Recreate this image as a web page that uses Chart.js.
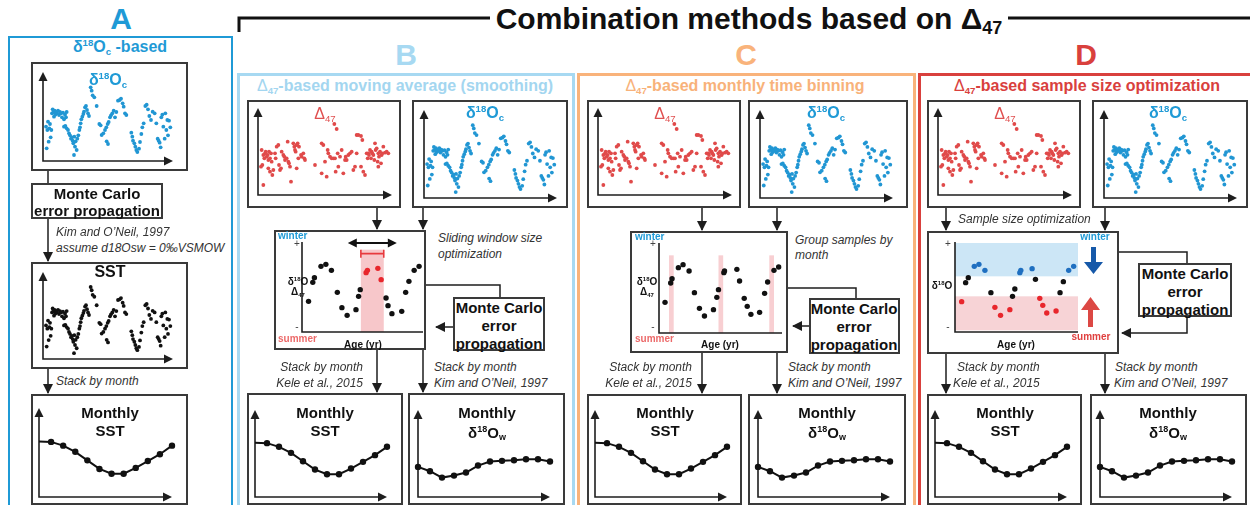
<!DOCTYPE html>
<html>
<head>
<meta charset="utf-8">
<script src="https://cdn.jsdelivr.net/npm/chart.js@4"></script>
<style>
  body { margin: 0; background: #fff; }
  #fig { position: relative; width: 1250px; height: 505px; overflow: hidden; font-family: "Liberation Sans", Arial, sans-serif; color: #111; }
  #fig > * { position: absolute; }
  .panel { box-sizing: border-box; background: transparent; }
  .box { box-sizing: border-box; border: 2px solid #3a3a3a; background: #fff; }
  .t { white-space: nowrap; line-height: 1; }
  sup { font-size: .6em; vertical-align: .6em; line-height: 0; }
  sub { font-size: .6em; vertical-align: -.3em; line-height: 0; }
  .letter { font-weight: bold; font-size: 30px; }
  .head { font-weight: bold; font-size: 30px; }
  .ptitle { font-weight: bold; font-size: 16px; }
  .lab { font-weight: bold; font-size: 16px; }
  .dl { font-size: 16px; color: #e05050; }
  .mc { font-weight: bold; font-size: 15px; }
  .it { font-style: italic; font-size: 12px; color: #333; }
  .mon { font-weight: bold; font-size: 15px; }
  .sm { font-weight: bold; font-size: 10px; }
  .pm { font-size: 10px; color: #444; }
</style>
</head>
<body>
<div id="fig"></div>
<script>
// ---- data ----
const months = ["Jan", "Feb", "Mar", "Apr", "May", "Jun", "Jul", "Aug", "Sep", "Oct", "Nov", "Dec"];
const monthlySST = [162, 161, 150, 132, 107, 82, 68, 68, 85, 105, 125, 150];
const monthlyD18Ow = [90, 77, 58, 64, 73, 94, 106, 108, 110, 113, 113, 106];

// d18Oc record (also used for the SST record in A)
const d18OcAge = [18, 20, 22, 24, 26, 28, 30, 32, 34, 36, 38, 40, 42, 44, 46, 48, 51, 54, 57, 60,
  63, 66, 69, 72, 75, 78, 80, 72, 76, 80, 84, 87, 90, 93, 96, 98, 100, 103, 105, 107,
  110, 112, 102, 115, 118, 120, 122, 124, 127, 130, 132, 135, 138, 141, 144, 147, 152, 155, 158, 163,
  170, 178, 182, 185, 190, 195, 199, 203, 206, 210, 213, 217, 221, 225, 229, 234, 239, 243, 248, 251,
  255, 259, 200, 204, 274, 277, 279, 283, 286, 289, 292, 297, 300, 304, 307, 311, 316, 320, 324, 328,
  333, 338, 344, 349, 353, 356, 359, 362, 364, 367, 370, 374, 379, 384, 387, 391, 382, 376];
const d18OcVal = [100, 35, 90, 115, 55, 95, 108, 68, 90, 140, 152, 143, 130, 148, 136, 144, 140, 148, 135, 144,
  140, 128, 142, 122, 136, 128, 144, 100, 102, 95, 90, 80, 74, 64, 68, 58, 50, 70, 40, 56,
  30, 64, 15, 74, 90, 98, 110, 122, 130, 138, 145, 158, 162, 150, 140, 132, 218, 208, 194, 188,
  162, 108, 104, 75, 80, 90, 98, 108, 114, 128, 134, 140, 148, 128, 144, 178, 180, 184, 170, 160,
  140, 135, 56, 48, 82, 70, 58, 50, 40, 30, 24, 34, 54, 78, 98, 110, 162, 166, 152, 132,
  120, 145, 140, 110, 64, 58, 52, 38, 128, 136, 100, 64, 90, 74, 118, 98, 120, 140];

// D47 record
const d47Age = [25, 20, 25, 28, 30, 32, 35, 38, 40, 42, 45, 48, 50, 22, 18, 40, 45, 55, 52, 60,
  62, 65, 70, 72, 75, 78, 80, 85, 88, 90, 95, 98, 100, 102, 105, 108, 115, 118, 120, 122,
  125, 128, 130, 132, 138, 140, 145, 148, 150, 125, 180, 200, 205, 210, 200, 215, 218, 220, 225, 230,
  235, 240, 242, 248, 250, 255, 260, 265, 270, 272, 275, 280, 285, 290, 295, 300, 305, 305, 310, 318,
  318, 322, 325, 330, 335, 338, 340, 342, 345, 348, 350, 352, 355, 358, 360, 362, 365, 368, 370, 372,
  375, 378, 380, 382, 385, 390, 395, 400, 370, 238, 245];
const d47Val = [30, 135, 120, 110, 125, 130, 115, 120, 105, 130, 110, 125, 100, 90, 85, 80, 70, 75, 60, 125,
  110, 145, 150, 90, 75, 80, 130, 120, 115, 105, 110, 160, 100, 95, 85, 40, 155, 145, 135, 130,
  150, 155, 110, 145, 120, 115, 125, 110, 105, 80, 90, 155, 150, 100, 65, 55, 135, 125, 115, 110,
  110, 110, 70, 125, 85, 115, 135, 65, 105, 115, 105, 120, 125, 130, 75, 85, 125, 180, 180, 177,
  85, 165, 70, 60, 125, 110, 125, 120, 135, 110, 130, 125, 120, 105, 155, 135, 140, 100, 125, 115,
  130, 95, 120, 125, 145, 127, 130, 125, 85, 213, 198];

// B: moving window
const smoothAge = [20, 33, 38, 58, 73, 90, 108, 122, 138, 165, 173, 178, 257, 263, 275, 305, 317, 327, 343, 358];
const smoothVal = [92, 149, 163, 197, 203, 185, 119, 73, 50, 67, 107, 127, 102, 79, 55, 62, 119, 152, 185, 197];
const windowAge = [196, 200, 232, 242];
const windowVal = [178, 185, 191, 157];
const windowRange = [180, 250];

// C: monthly bins
const binAge = [18, 35, 39, 58, 72, 90, 106, 121, 136, 163, 173, 178, 194, 196, 233, 241, 255, 264, 275, 301, 316, 325, 344, 358];
const binVal = [92, 150, 163, 196, 205, 186, 121, 74, 51, 70, 107, 130, 181, 186, 191, 156, 104, 80, 56, 62, 119, 153, 188, 198];
const binRanges = [[30, 44], [178, 192], [330, 344]];

// D: sample size optimization
const winterAge = [58, 72, 90, 195, 198, 232, 342, 357];
const winterVal = [197, 203, 185, 178, 185, 190, 185, 197];
const midAge = [32, 40, 108, 173, 180, 242, 316, 326];
const midVal = [148, 163, 118, 107, 129, 158, 118, 151];
const summerAge = [20, 120, 137, 165, 255, 264, 276, 304];
const summerVal = [91, 74, 50, 67, 101, 80, 57, 63];
const winterRange = [167, 267];
const summerRange = [5, 107];

// ---- helpers ----
const fig = document.getElementById("fig");
const D18OC = "δ<sup>18</sup>O<sub>c</sub>";
const D47 = "Δ<sub>47</sub>";
const BLUE = "#1f9ad6";
const PAD = 8;

function rect(cls, x1, y1, x2, y2, style) {
  const d = document.createElement("div");
  d.className = cls;
  Object.assign(d.style, { left: x1 + "px", top: y1 + "px", width: x2 - x1 + "px", height: y2 - y1 + "px" }, style || {});
  fig.appendChild(d);
  return d;
}

function txt(html, x, y, cls, align, color) {
  const d = document.createElement("div");
  d.className = "t " + (cls || "");
  d.innerHTML = html;
  d.style.left = x + "px";
  d.style.top = y + "px";
  if (color) d.style.color = color;
  const tx = align === "l" ? "0" : align === "r" ? "-100%" : "-50%";
  d.style.transform = "translate(" + tx + ",-50%)";
  fig.appendChild(d);
}

function pts(xs, ys) {
  return xs.map((x, i) => ({ x: x, y: ys[i] }));
}

const framePlugin = {
  id: "frame",
  beforeDatasetsDraw(chart, args, opts) {
    const { ctx, chartArea: a, scales } = chart;
    ctx.save();
    (opts.bands || []).forEach((b) => {
      const x0 = b.x ? scales.x.getPixelForValue(b.x[0]) : a.left;
      const x1 = b.x ? scales.x.getPixelForValue(b.x[1]) : a.right;
      const y0 = scales.y.getPixelForValue(b.y[1]);
      const y1 = scales.y.getPixelForValue(b.y[0]);
      ctx.fillStyle = b.color;
      ctx.fillRect(x0, y0, x1 - x0, y1 - y0);
    });
    ctx.strokeStyle = "#1e1e1e";
    ctx.fillStyle = "#1e1e1e";
    ctx.lineWidth = 1.6;
    const h = opts.arrows ? 8 : 0;
    ctx.beginPath();
    ctx.moveTo(a.left, a.top + h);
    ctx.lineTo(a.left, a.bottom);
    ctx.lineTo(a.right - h, a.bottom);
    ctx.stroke();
    if (opts.arrows) {
      ctx.beginPath();
      ctx.moveTo(a.left, a.top);
      ctx.lineTo(a.left - 4.5, a.top + 9);
      ctx.lineTo(a.left + 4.5, a.top + 9);
      ctx.closePath();
      ctx.fill();
      ctx.beginPath();
      ctx.moveTo(a.right, a.bottom);
      ctx.lineTo(a.right - 9, a.bottom - 4.5);
      ctx.lineTo(a.right - 9, a.bottom + 4.5);
      ctx.closePath();
      ctx.fill();
    }
    if (opts.bar) {
      // window-size bar and sliding arrow
      const b = opts.bar;
      const x0 = scales.x.getPixelForValue(b.x[0]);
      const x1 = scales.x.getPixelForValue(b.x[1]);
      const y = scales.y.getPixelForValue(b.y);
      ctx.strokeStyle = "#e8393d";
      ctx.lineWidth = 1.6;
      ctx.beginPath();
      ctx.moveTo(x0, y); ctx.lineTo(x1, y);
      ctx.moveTo(x0, y - 4); ctx.lineTo(x0, y + 4);
      ctx.moveTo(x1, y - 4); ctx.lineTo(x1, y + 4);
      ctx.stroke();
      const s0 = scales.x.getPixelForValue(b.slide[0]);
      const s1 = scales.x.getPixelForValue(b.slide[1]);
      const sy = scales.y.getPixelForValue(b.slideY);
      ctx.strokeStyle = "#111";
      ctx.fillStyle = "#111";
      ctx.lineWidth = 1.8;
      ctx.beginPath();
      ctx.moveTo(s0 + 6, sy); ctx.lineTo(s1 - 6, sy);
      ctx.stroke();
      ctx.beginPath();
      ctx.moveTo(s0, sy); ctx.lineTo(s0 + 9, sy - 4.5); ctx.lineTo(s0 + 9, sy + 4.5); ctx.closePath();
      ctx.moveTo(s1, sy); ctx.lineTo(s1 - 9, sy - 4.5); ctx.lineTo(s1 - 9, sy + 4.5); ctx.closePath();
      ctx.fill();
    }
    ctx.restore();
  },
};

function makeChart(ax, type, data, xr, yr, frame) {
  const c = document.createElement("canvas");
  c.width = ax[2] - ax[0] + 2 * PAD;
  c.height = ax[3] - ax[1] + 2 * PAD;
  c.style.left = ax[0] - PAD + "px";
  c.style.top = ax[1] - PAD + "px";
  fig.appendChild(c);
  const xScale = type === "line"
    ? { type: "category", display: false, offset: false }
    : { type: "linear", display: false, min: xr[0], max: xr[1] };
  return new Chart(c, {
    type: type,
    data: data,
    options: {
      responsive: false,
      animation: false,
      events: [],
      layout: { padding: PAD },
      scales: { x: xScale, y: { display: false, min: yr[0], max: yr[1] } },
      plugins: { legend: { display: false }, tooltip: { enabled: false }, frame: frame },
    },
    plugins: [framePlugin],
  });
}

function scatter(ax, xs, ys, color, xr, yr) {
  makeChart(ax, "scatter",
    { datasets: [{ data: pts(xs, ys), backgroundColor: color, borderWidth: 0, pointRadius: 1.9, clip: false }] },
    xr, yr, { arrows: true });
}

function monthly(ax, values, firstDot) {
  const radii = values.map((v, i) => (i === 0 && !firstDot ? 0 : 3.2));
  makeChart(ax, "line",
    { labels: months, datasets: [{ data: values, borderColor: "#111", borderWidth: 2, pointRadius: radii,
      pointBackgroundColor: "#111", pointBorderWidth: 0, tension: 0, clip: false }] },
    null, [0, 260], { arrows: true });
}

function dots(xs, ys, color) {
  return { data: pts(xs, ys), backgroundColor: color, borderWidth: 0, pointRadius: 2.7, clip: false };
}

// ---- panel frames ----
rect("panel", 8, 36, 233, 540, { border: "2px solid " + BLUE });
rect("panel", 237, 73, 575, 540, { border: "3px solid #a7d9f2" });
rect("panel", 577, 73, 916, 540, { border: "3px solid #f9b37b" });
rect("panel", 918, 73, 1262, 540, { border: "3px solid #d9403d" });

// ---- boxes ----
const boxes = [
  [31, 62, 188, 171], [31, 183, 163, 219], [31, 262, 188, 369], [31, 394, 188, 505],
  [247, 100, 401, 208], [412, 100, 568, 208], [274, 230, 426, 350], [453, 297, 545, 351],
  [247, 393, 403, 505], [408, 393, 565, 505],
  [587, 100, 741, 208], [748, 100, 908, 208], [630, 231, 788, 353], [809, 298, 900, 354],
  [587, 394, 742, 505], [748, 394, 906, 505],
  [927, 100, 1081, 208], [1092, 100, 1248, 208], [927, 231, 1119, 354], [1138, 263, 1232, 317],
  [927, 394, 1082, 505], [1090, 394, 1247, 505],
];
boxes.forEach((b) => rect("box", b[0], b[1], b[2], b[3]));

// ---- connectors ----
const lines = [
  [[48, 171], [48, 183], 0], [[48, 219], [48, 261], 1], [[48, 369], [48, 393], 1],
  [[377, 208], [377, 229], 1], [[423, 208], [423, 229], 1],
  [[426, 285], [500, 285], [500, 297], 0], [[453, 327], [436, 327], 1],
  [[377, 350], [377, 392], 1], [[423, 350], [423, 392], 1],
  [[702, 208], [702, 230], 1], [[777, 208], [777, 230], 1],
  [[788, 288], [856, 288], [856, 298], 0], [[809, 326], [793, 326], 1],
  [[702, 353], [702, 393], 1], [[777, 353], [777, 393], 1],
  [[946, 208], [946, 230], 1], [[1105, 208], [1105, 230], 1],
  [[1119, 252], [1187, 252], [1187, 263], 0], [[1187, 317], [1187, 333], [1122, 333], 1],
  [[946, 354], [946, 393], 1], [[1105, 354], [1105, 393], 1],
];
let svg = '<svg width="1250" height="505" style="position:absolute;left:0;top:0">' +
  '<defs><marker id="ah" markerWidth="10" markerHeight="10" refX="9" refY="5" orient="auto" markerUnits="userSpaceOnUse">' +
  '<path d="M0,0 L10,5 L0,10 z" fill="#1e1e1e"/></marker></defs>' +
  '<polyline points="239,32 239,18 490,18" fill="none" stroke="#111" stroke-width="3"/>' +
  '<line x1="1008" y1="18" x2="1250" y2="18" stroke="#111" stroke-width="3"/>';
lines.forEach((l) => {
  const arrow = l[l.length - 1];
  const p = l.slice(0, -1).map((q) => q.join(",")).join(" ");
  svg += '<polyline points="' + p + '" fill="none" stroke="#1e1e1e" stroke-width="1.5"' + (arrow ? ' marker-end="url(#ah)"' : "") + "/>";
});
// winter / summer arrows in D
svg += '<path d="M1091,247 h5 v15 h7 l-9.5,12 l-9.5,-12 h7 z" fill="#1659a9"/>';
svg += '<path d="M1088,327 h5 v-17 h7 l-9.5,-13 l-9.5,13 h7 z" fill="#dc4844"/>';
svg += "</svg>";
fig.insertAdjacentHTML("beforeend", svg);

// ---- charts ----
const ocX = [9, 399], ocY = [-3, 264];
const d47X = [9, 411], d47Y = [0, 261];
scatter([43, 72, 173, 161], d18OcAge, d18OcVal, "#2196d3", ocX, ocY);
scatter([43, 272, 173, 359], d18OcAge, d18OcVal, "#111", ocX, ocY);
monthly([39, 408, 172, 497], monthlySST, false);

scatter([258, 108, 392, 195], d47Age, d47Val, "#e04a4a", d47X, d47Y);
scatter([424, 110, 557, 198], d18OcAge, d18OcVal, "#2196d3", ocX, ocY);
makeChart([302, 242, 423, 332], "scatter",
  { datasets: [dots(smoothAge, smoothVal, "#111"), dots(windowAge, windowVal, "#e8262c")] },
  [0, 370], [0, 270],
  { arrows: false, bands: [{ x: windowRange, y: [0, 247], color: "#f7c7ca" }],
    bar: { x: windowRange, y: 235, slide: [140, 290], slideY: 267 } });
monthly([255, 410, 387, 497], monthlySST, false);
monthly([418, 410, 550, 497], monthlyD18Ow, true);

scatter([598, 108, 732, 195], d47Age, d47Val, "#e04a4a", d47X, d47Y);
scatter([760, 110, 893, 198], d18OcAge, d18OcVal, "#2196d3", ocX, ocY);
makeChart([659, 243, 782, 333], "scatter",
  { datasets: [dots(binAge, binVal, "#111")] },
  [0, 368], [0, 270],
  { arrows: false, bands: binRanges.map((r) => ({ x: r, y: [0, 233], color: "#f8cfd2" })) });
monthly([595, 410, 727, 497], monthlySST, false);
monthly([758, 410, 890, 497], monthlyD18Ow, true);

scatter([938, 108, 1072, 195], d47Age, d47Val, "#e04a4a", d47X, d47Y);
scatter([1104, 110, 1237, 198], d18OcAge, d18OcVal, "#2196d3", ocX, ocY);
makeChart([955, 242, 1078, 332], "scatter",
  { datasets: [dots(winterAge, winterVal, "#1f6fc0"), dots(midAge, midVal, "#111"), dots(summerAge, summerVal, "#e8262c")] },
  [0, 370], [0, 270],
  { arrows: false, bands: [{ y: winterRange, color: "#cce6f6" }, { y: summerRange, color: "#f7d3d6" }] });
monthly([935, 410, 1067, 497], monthlySST, false);
monthly([1100, 410, 1232, 497], monthlyD18Ow, true);

// ---- text ----
txt("A", 121, 19, "letter", "c", BLUE);
txt("Combination methods based on Δ<sub>47</sub>", 749, 19, "head", "c");
txt("B", 406, 55, "letter", "c", "#a7d9f2");
txt("C", 746, 55, "letter", "c", "#f9b37b");
txt("D", 1086, 55, "letter", "c", "#d9403d");

txt(D18OC + " -based", 120, 47, "ptitle", "c", BLUE);
txt('<span style="font-weight:normal">Δ</span><sub>47</sub>-based moving average (smoothing)', 405, 86, "ptitle", "c", "#a3d6f0");
txt('<span style="font-weight:normal">Δ</span><sub>47</sub>-based monthly time binning', 745, 86, "ptitle", "c", "#f8b27a");
txt('<span style="font-weight:normal">Δ</span><sub>47</sub>-based sample size optimization', 1087, 86, "ptitle", "c", "#d9403d");

// panel A
txt(D18OC, 108, 80, "lab", "c", BLUE);
txt("Monte Carlo", 97, 193, "mc", "c");
txt("error propagation", 97, 210, "mc", "c");
txt("Kim and O’Neil, 1997", 56, 232, "it", "l");
txt("assume d18Osw = 0‰VSMOW", 56, 248, "it", "l");
txt("SST", 110, 272, "lab", "c");
txt("Stack by month", 56, 381, "it", "l");
txt("Monthly", 110, 412, "mon", "c");
txt("SST", 110, 430, "mon", "c");

// scatter labels B, C, D
[[325, 485], [665, 826], [1005, 1168]].forEach((p) => {
  txt(D47, p[0], 114, "dl", "c");
  txt(D18OC, p[1], 113, "lab", "c", BLUE);
});

// middle plot labels
function midLabels(pmx, dx, ageX, w, s, hasD47) {
  txt("+", pmx, 244, "pm", "c");
  txt("-", pmx, 327, "pm", "c");
  txt("δ<sup>18</sup>O", dx, hasD47 ? 282 : 286, "sm", "c");
  if (hasD47) txt("Δ<sub>47</sub>", dx, 292, "sm", "c");
  txt("Age (yr)", ageX, 345, "sm", "c");
  txt("winter", w[0], w[1], "sm", w[2], BLUE);
  txt("summer", s[0], s[1], "sm", s[2], s[3]);
}
midLabels(297, 298, 363, [278, 236, "l"], [278, 339, "l", "#ec6a6a"], true);
midLabels(653, 647, 720, [635, 237, "l"], [635, 339, "l", "#ec6a6a"], true);
midLabels(948, 942, 1016, [1095, 237, "c"], [1091, 337, "c", "#e0403f"], false);

txt("Sliding window size", 438, 238, "it", "l");
txt("optimization", 438, 254, "it", "l");
txt("Group samples by", 795, 240, "it", "l");
txt("month", 795, 255, "it", "l");
txt("Sample size optimization", 958, 219, "it", "l");

[[499, 307], [854, 308], [1185, 273]].forEach((p) => {
  txt("Monte Carlo", p[0], p[1], "mc", "c");
  txt("error", p[0], p[1] + 18, "mc", "c");
  txt("propagation", p[0], p[1] + 36, "mc", "c");
});

// stack-by-month notes
txt("Stack by month", 363, 367, "it", "r");
txt("Kele et al., 2015", 363, 383, "it", "r");
txt("Stack by month", 434, 367, "it", "l");
txt("Kim and O’Neil, 1997", 434, 383, "it", "l");
txt("Stack by month", 692, 367, "it", "r");
txt("Kele et al., 2015", 692, 383, "it", "r");
txt("Stack by month", 788, 367, "it", "l");
txt("Kim and O’Neil, 1997", 788, 383, "it", "l");
txt("Stack by month", 957, 367, "it", "l");
txt("Kele et al., 2015", 953, 383, "it", "l");
txt("Stack by month", 1115, 367, "it", "l");
txt("Kim and O’Neil, 1997", 1114, 383, "it", "l");

// monthly titles
[[325, 487], [665, 827], [1005, 1168]].forEach((p) => {
  txt("Monthly", p[0], 412, "mon", "c");
  txt("SST", p[0], 430, "mon", "c");
  txt("Monthly", p[1], 412, "mon", "c");
  txt("δ<sup>18</sup>O<sub>w</sub>", p[1], 432, "mon", "c");
});
</script>
</body>
</html>
